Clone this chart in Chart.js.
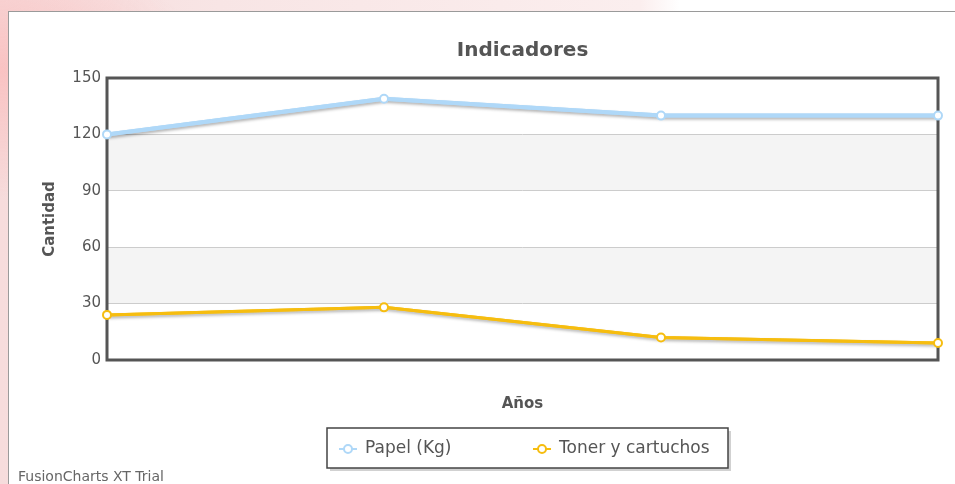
<!DOCTYPE html>
<html>
<head>
<meta charset="utf-8">
<script src="https://cdn.jsdelivr.net/npm/chart.js@4.4.1/dist/chart.umd.min.js"></script>
<style>
  html, body { margin: 0; padding: 0; width: 955px; height: 484px; overflow: hidden; }
  body {
    background:
      radial-gradient(ellipse 200px 130px at 0px 70px, rgba(250, 190, 190, 0.85), rgba(255, 255, 255, 0) 100%),
      linear-gradient(to right, #f6dcdc 0px, #f8e5e5 220px, #fbeeee 640px, #ffffff 680px);
  }
  #marco {
    position: absolute; left: 8px; top: 11px; width: 960px; height: 480px;
    border: 1px solid #9a9a9a; background: #ffffff;
  }
  #grafico { position: absolute; left: 0; top: 0; }
</style>
</head>
<body>
<div id="marco"></div>
<canvas id="grafico" width="955" height="484"></canvas>
<script>
// datos del gráfico
var categorias = ["", "", "", ""];
var papel = [120, 139, 130, 130];
var toner = [24, 28, 12, 9];
var ticksY = [0, 30, 60, 90, 120, 150];

var FUENTE = "'DejaVu Sans', Verdana, sans-serif";
var colorPapel = "#AFD8F8";
var colorToner = "#F6BD0F";

// bandas alternas, borde del área y sombra de las líneas
var pluginFondo = {
  id: "fondo",
  beforeDraw: function (chart) {
    var ctx = chart.ctx;
    var area = chart.chartArea;
    var y = chart.scales.y;
    ctx.save();
    ctx.fillStyle = "#f4f4f4";
    for (var i = 1; i < ticksY.length - 1; i += 2) {
      var y1 = y.getPixelForValue(ticksY[i]);
      var y2 = y.getPixelForValue(ticksY[i + 1]);
      ctx.fillRect(area.left, y2, area.right - area.left, y1 - y2);
    }
    ctx.restore();
  },
  beforeDatasetsDraw: function (chart) {
    var ctx = chart.ctx;
    var area = chart.chartArea;
    ctx.save();
    ctx.strokeStyle = "#555555";
    ctx.lineWidth = 3;
    ctx.strokeRect(area.left, area.top, area.right - area.left, area.bottom - area.top);
    ctx.restore();
  },
  beforeDatasetDraw: function (chart, args) {
    // sombra sólo para la línea, no para los puntos
    var ctx = chart.ctx;
    ctx.save();
    ctx.shadowColor = "rgba(0, 0, 0, 0.3)";
    ctx.shadowBlur = 3;
    ctx.shadowOffsetX = 1;
    ctx.shadowOffsetY = 2;
    args.meta.dataset.draw(ctx, chart.chartArea);
    ctx.restore();
  },
  afterDraw: function (chart) {
    var ctx = chart.ctx;
    // leyenda con recuadro
    var bx = 327, by = 428, bw = 401, bh = 40;
    ctx.save();
    ctx.fillStyle = "rgba(0, 0, 0, 0.18)";
    ctx.fillRect(bx + 3, by + 3, bw, bh);
    ctx.fillStyle = "#ffffff";
    ctx.fillRect(bx, by, bw, bh);
    ctx.strokeStyle = "#444444";
    ctx.lineWidth = 1.5;
    ctx.strokeRect(bx, by, bw, bh);
    var posTexto = [365, 559];
    var cy = by + bh / 2 + 1;
    ctx.font = "17px " + FUENTE;
    ctx.textBaseline = "middle";
    chart.data.datasets.forEach(function (ds, i) {
      var tx = posTexto[i];
      var mx = tx - 17;
      ctx.strokeStyle = ds.borderColor;
      ctx.lineWidth = 2;
      ctx.beginPath();
      ctx.moveTo(mx - 9, cy);
      ctx.lineTo(mx + 9, cy);
      ctx.stroke();
      ctx.beginPath();
      ctx.arc(mx, cy, 4, 0, Math.PI * 2);
      ctx.fillStyle = "#ffffff";
      ctx.fill();
      ctx.stroke();
      ctx.fillStyle = "#555555";
      ctx.fillText(ds.label, tx, cy);
    });
    // marca de agua
    ctx.font = "14px " + FUENTE;
    ctx.textBaseline = "alphabetic";
    ctx.fillStyle = "#666666";
    ctx.fillText("FusionCharts XT Trial", 18, 481);
    ctx.restore();
  },
};

var ctx = document.getElementById("grafico").getContext("2d");
var grafico = new Chart(ctx, {
  type: "line",
  data: {
    labels: categorias,
    datasets: [
      {
        label: "Papel (Kg)",
        data: papel,
        borderColor: colorPapel,
        backgroundColor: colorPapel,
        borderWidth: 4,
        pointRadius: 4,
        pointBorderWidth: 2,
        pointBackgroundColor: "#ffffff",
        pointBorderColor: colorPapel,
        tension: 0,
        clip: false,
      },
      {
        label: "Toner y cartuchos",
        data: toner,
        borderColor: colorToner,
        backgroundColor: colorToner,
        borderWidth: 3,
        pointRadius: 4,
        pointBorderWidth: 2,
        pointBackgroundColor: "#ffffff",
        pointBorderColor: colorToner,
        tension: 0,
        clip: false,
      },
    ],
  },
  options: {
    responsive: false,
    animation: false,
    layout: { padding: { left: 0, right: 17, top: 0, bottom: 64 } },
    plugins: {
      legend: { display: false },
      tooltip: { enabled: false },
      title: {
        display: true,
        text: "Indicadores",
        fullSize: false,
        color: "#555555",
        font: { family: FUENTE, size: 20, weight: "bold" },
        padding: { top: 39, bottom: 15 },
      },
    },
    scales: {
      x: {
        offset: false,
        grid: { display: false },
        border: { display: false },
        ticks: { display: false },
        title: {
          display: true,
          text: "Años",
          color: "#555555",
          font: { family: FUENTE, size: 15, weight: "bold" },
          padding: { top: 0, bottom: 7 },
        },
        afterFit: function (scale) {
          scale.height = 60;
        },
      },
      y: {
        min: 0,
        max: 150,
        afterBuildTicks: function (scale) {
          scale.ticks = ticksY.map(function (v) {
            return { value: v };
          });
        },
        grid: {
          color: function (c) {
            return c.tick.value === 0 || c.tick.value === 150 ? "rgba(0,0,0,0)" : "#cccccc";
          },
          drawTicks: false,
          lineWidth: 1,
        },
        border: { display: false },
        ticks: {
          color: "#555555",
          padding: 6,
          font: { family: FUENTE, size: 15 },
        },
        title: {
          display: true,
          text: "Cantidad",
          color: "#555555",
          font: { family: FUENTE, size: 15, weight: "bold" },
          padding: { top: 41, bottom: 0 },
        },
        afterFit: function (scale) {
          scale.width = 107;
        },
      },
    },
  },
  plugins: [pluginFondo],
});
</script>
</body>
</html>
